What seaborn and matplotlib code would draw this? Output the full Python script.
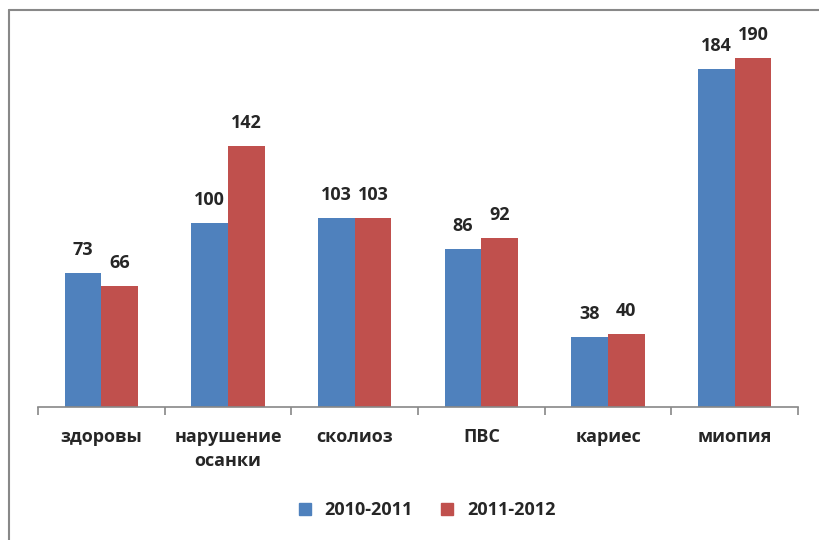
import matplotlib
matplotlib.use("Agg")
import matplotlib.pyplot as plt
import matplotlib.lines as mlines
import pandas as pd
import seaborn as sns

categories = ["здоровы", "нарушение\nосанки", "сколиоз", "ПВС", "кариес", "миопия"]
series = ["2010-2011", "2011-2012"]
vals_2010 = [73, 100, 103, 86, 38, 184]
vals_2011 = [66, 142, 103, 92, 40, 190]
colors = ["#4F81BD", "#C0504D"]

df = pd.DataFrame({
    "cat": categories * 2,
    "period": [series[0]] * len(categories) + [series[1]] * len(categories),
    "value": vals_2010 + vals_2011,
})

sns.set_style("white")
plt.rcParams["font.family"] = ["Open Sans", "DejaVu Sans"]

fig = plt.figure(figsize=(8.19, 5.4), dpi=100)
ax = fig.add_axes([38 / 819, 133 / 540, 760 / 819, 367.4 / 540])

sns.barplot(data=df, x="cat", y="value", hue="period", order=categories,
            hue_order=series, palette=colors, width=0.58, saturation=1,
            ax=ax, legend=False, edgecolor="none")

ax.set_xlim(-0.5, len(categories) - 0.5)
ax.set_ylim(0, 200)
ax.set_xlabel("")
ax.set_ylabel("")
ax.set_yticks([])
for s in ["top", "left", "right"]:
    ax.spines[s].set_visible(False)
ax.spines["bottom"].set_color("#888888")
ax.spines["bottom"].set_linewidth(1.2)

ax.set_xticks(range(len(categories)))
ax.set_xticklabels(categories, fontsize=13, fontweight="bold", linespacing=1.45)
ax.tick_params(axis="x", which="major", bottom=True, length=0, pad=15)
ax.set_xticks([i - 0.5 for i in range(len(categories) + 1)], minor=True)
ax.tick_params(axis="x", which="minor", bottom=True, length=6, color="#888888",
               width=1.2, direction="out")

for container in ax.containers:
    ax.bar_label(container, fontsize=13, fontweight="bold", padding=10)

handles = [mlines.Line2D([], [], marker="s", linestyle="none", markersize=9,
                         color=c) for c in colors]
fig.legend(handles, series, loc="center", bbox_to_anchor=(421 / 819, 1 - 510 / 540),
           ncol=2, frameon=False, prop={"size": 13, "weight": "bold"},
           handletextpad=0.1, columnspacing=0.9)

# border on top and left like the original frame
fig.add_artist(mlines.Line2D([9 / 819, 1], [1 - 10 / 540, 1 - 10 / 540], color="#888888", lw=1.5))
fig.add_artist(mlines.Line2D([9 / 819, 9 / 819], [0, 1 - 10 / 540], color="#888888", lw=1.5))

fig.savefig("out.png", dpi=100)
